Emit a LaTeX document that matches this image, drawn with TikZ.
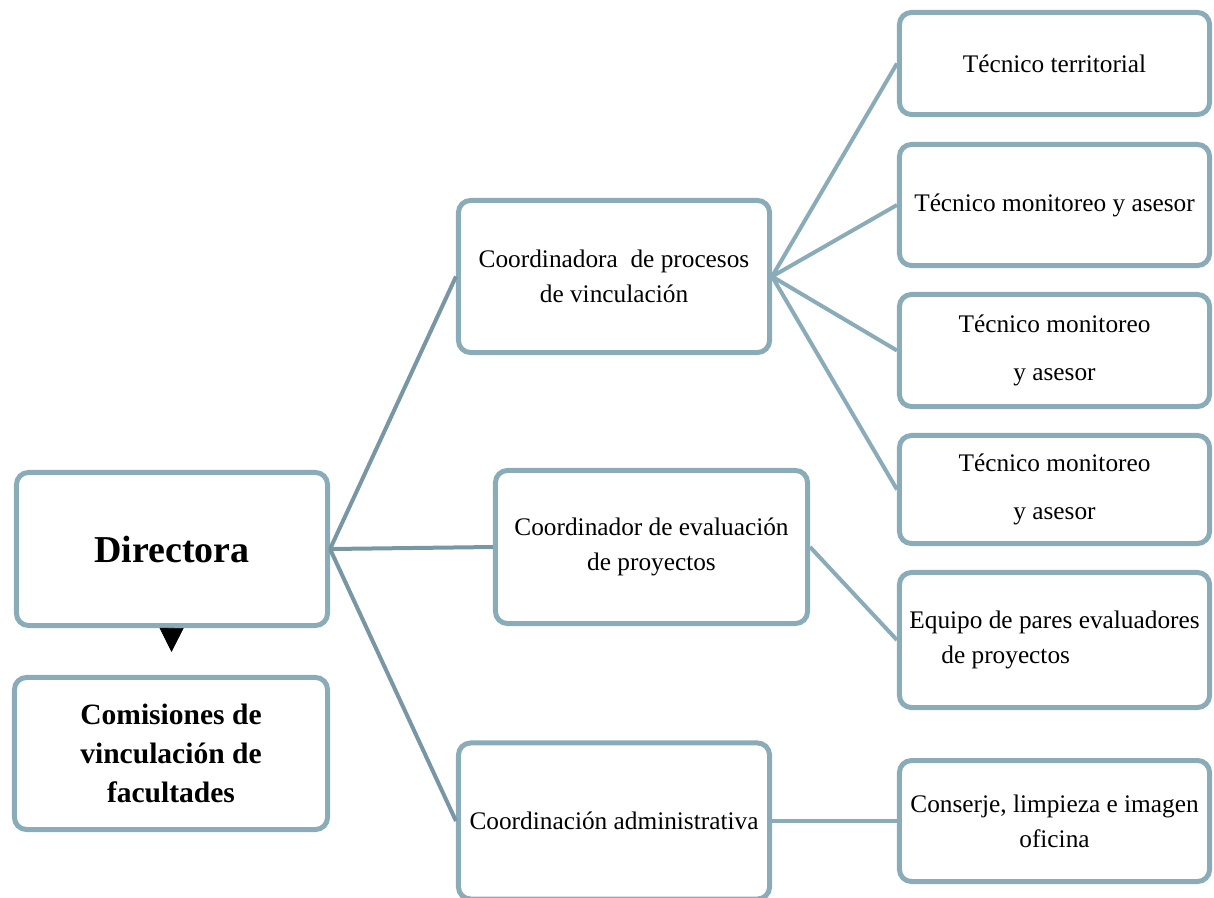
\documentclass[tikz,border=0pt]{standalone}
\usepackage{fontspec}
\setmainfont{Liberation Serif}
\usetikzlibrary{arrows.meta}
\definecolor{marco}{HTML}{8AACB9}
\definecolor{rama}{HTML}{7896A3}

\begin{document}
\begin{tikzpicture}[x=0.025cm, y=-0.025cm,
caja/.style={rectangle, rounded corners=0.3cm, draw=marco, line width=0.125cm, align=center, inner sep=0pt, font=\fontsize{18}{25}\selectfont},
ancha/.style={caja, minimum width=7.775cm, minimum height=3.8cm},
tecnico/.style={caja, minimum width=7.75cm},
enlace/.style={draw=marco, line width=0.1cm},
enlacedir/.style={draw=rama, line width=0.1cm}]
\useasboundingbox (0,0) rectangle (1214,897);
\path (172,549) node[ancha, minimum height=3.825cm, font=\fontsize{27}{32}\selectfont\bfseries](dir) {Directora}
(171,753.5) node[ancha, minimum width=7.825cm, font=\fontsize{21}{27.7}\selectfont\bfseries](com) {Comisiones de\\vinculación de\\facultades}
(614,276.5) node[ancha](cpv) {Coordinadora\ \ de procesos\\de vinculación}
(651.5,547) node[ancha, minimum width=7.8cm, minimum height=3.825cm](cep) {Coordinador de evaluación\\de proyectos}
(614,821) node[ancha, minimum height=3.9cm](cad) {Coordinación administrativa}
(1054.5,63.5) node[tecnico, minimum height=2.55cm](tt) {Técnico territorial}
(1054.5,205) node[tecnico, minimum height=3.025cm](tm1) {Técnico monitoreo y asesor}
(1054.5,350.5) node[tecnico, minimum height=2.8cm](tm2) {Técnico monitoreo\\[9pt]y asesor}
(1054.5,489.5) node[tecnico, minimum height=2.7cm](tm3) {Técnico monitoreo\\[9pt]y asesor}
(1054.5,640) node[tecnico, minimum height=3.375cm, align=left](epe) {Equipo de pares evaluadores\\\hspace*{0.8cm}de proyectos}
(1054.5,821) node[tecnico, minimum height=3.025cm](cli) {Conserje, limpieza e imagen\\oficina};
%\draw[->] (dir) -- (cad);
\draw[enlacedir] (dir.east) -- (cpv.west);
\draw[enlacedir] (dir.east) -- (cep.west);
\draw[enlacedir] (dir.east) -- (cad.west);
\draw[enlace] (cpv.east) -- (tt.west);
\draw[enlace] (cpv.east) -- (tm1.west);
\draw[enlace] (cpv.east) -- (tm2.west);
\draw[enlace] (cpv.east) -- (tm3.west);
\draw[enlace] (cep.east) -- (epe.west);
\draw[enlace] (cad.east) -- (cli.west);
\draw[-{Triangle[width=0.6cm,length=0.6cm]}, shorten >=0.575cm] (dir) -- (com);
\end{tikzpicture}
\end{document}
